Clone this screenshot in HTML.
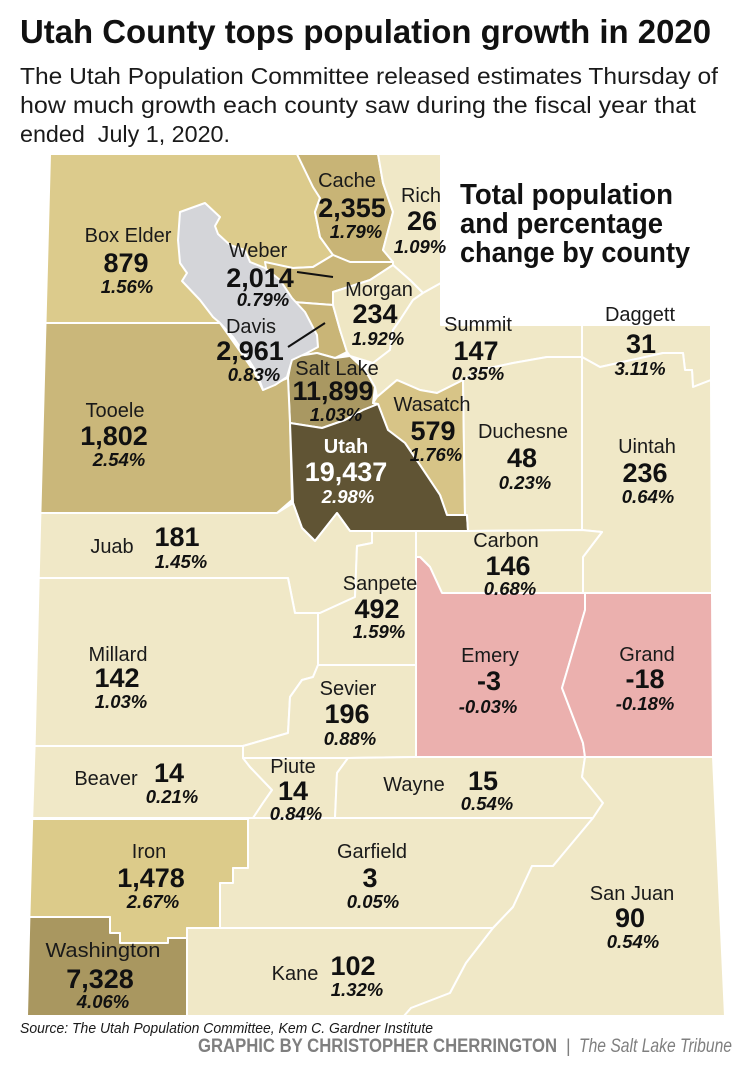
<!DOCTYPE html>
<html><head><meta charset="utf-8"><style>
html,body{margin:0;padding:0;background:#fff;}
svg{display:block;}
text{font-family:"Liberation Sans",sans-serif;}
.n{font-size:20px;fill:#1a1a1a;text-anchor:middle}
.v{font-size:27px;font-weight:bold;fill:#111;text-anchor:middle}
.p{font-size:18.5px;font-weight:bold;font-style:italic;fill:#111;text-anchor:middle}
.wt{fill:#fff}
</style></head><body>
<svg width="750" height="1075" viewBox="0 0 750 1075">
<rect width="750" height="1075" fill="#fff"/>
<!-- Header -->
<text x="20" y="43" font-size="33" font-weight="bold" fill="#111" textLength="691" lengthAdjust="spacingAndGlyphs">Utah County tops population growth in 2020</text>
<text x="20" y="84" font-size="23" fill="#1a1a1a" textLength="698" lengthAdjust="spacingAndGlyphs">The Utah Population Committee released estimates Thursday of</text>
<text x="20" y="113" font-size="23" fill="#1a1a1a" textLength="676" lengthAdjust="spacingAndGlyphs">how much growth each county saw during the fiscal year that</text>
<text x="20" y="142" font-size="23" fill="#1a1a1a" textLength="210" lengthAdjust="spacingAndGlyphs">ended&#160; July 1, 2020.</text>

<!-- Counties -->
<g stroke="#fff" stroke-width="2" stroke-linejoin="round">
<polygon fill="#dccb8c" points="50,154 297,154 313,187 320,198 315,212 320,237 333,255 313,267 293,268 270,270 220,323 45.5,323"/>
<polygon fill="#c8b476" points="297,154 378,154 383,183 393,212 383,250 393,262 350,262 333,255 320,237 315,212 320,198 313,187"/>
<polygon fill="#f0e8c7" points="378,154 441,154 441,283 423,293 410,280 393,265 393,262 383,250 393,212 383,183"/>
<polygon fill="#c9b577" points="265,262 293,268 313,267 333,255 350,262 393,262 393,265 370,280 333,292 333,305 293,302 270,290"/>
<polygon fill="#c9b577" points="293,302 333,305 340,330 347,352 335,358 317,353 292,357 285,330"/>
<polygon fill="#efe7c4" points="333,292 370,280 393,265 410,280 423,293 413,300 400,320 393,330 390,350 373,363 350,356 347,352 340,330 333,305"/>
<polygon fill="#a99862" points="292,357 317,353 335,358 350,356 365,370 375,387 373,403 378,404 363,410 345,420 322,428 290,423 288,378"/>
<polygon fill="#f0e8c7" points="423,293 441,283 441,325 582,325 582,357 547,357 513,363 480,370 463,380 437,393 420,390 397,380 377,397 375,387 365,370 373,363 390,350 393,330 400,320 413,300"/>
<polygon fill="#d7c487" points="377,397 397,380 420,390 437,393 463,380 465,515 447,515 440,495 420,465 405,443 388,430 378,404 373,403"/>
<polygon fill="#cab77a" points="45.5,323 220,323 237,347 253,370 263,390 283,380 288,378 290,423 292,500 277,513 40.4,513"/>
<polygon fill="#605434" points="290,423 322,428 345,420 363,410 378,404 388,430 405,443 420,465 440,495 447,515 467,515 468,531 350,531 337,513 315,541 302,528 293,503"/>
<polygon fill="#f0e8c7" points="463,380 480,370 513,363 547,357 582,357 582,530 468,531 467,515 465,515"/>
<polygon fill="#f0e8c7" points="582,325 711,325 711,380 693,387 692,370 685,370 683,353 663,353 600,367 582,357"/>
<polygon fill="#f0e8c7" points="582,357 600,367 663,353 683,353 685,370 692,370 693,387 711,380 712,593 583,593 583,557 602,532 582,530"/>
<polygon fill="#f0e8c7" points="416,531 468,531 582,530 602,532 583,557 583,593 442,593 430,567 420,557 416,557"/>
<polygon fill="#ebb0ae" points="416,557 420,557 430,567 442,593 585,593 585,610 562,688 583,743 585,757 416,757"/>
<polygon fill="#ebb0ae" points="585,593 712,593 713,757 585,757 583,743 562,688 585,610"/>
<polygon fill="#f0e8c7" points="40.4,513 277,513 293,503 302,528 315,541 337,513 350,531 372,531 372,543 357,546 355,597 320,613 295,613 288,578 38.7,578"/>
<polygon fill="#f0e8c7" points="372,531 416,531 416,665 318,665 318,613 320,613 355,597 357,546 372,543"/>
<polygon fill="#f0e8c7" points="38.7,578 288,578 295,613 318,613 318,665 313,677 302,680 290,697 288,733 243,746 34.6,746"/>
<polygon fill="#f0e8c7" points="318,665 416,665 416,757 348,758 243,758 243,746 288,733 290,697 302,680 313,677"/>
<polygon fill="#f0e8c7" points="34.6,746 243,746 243,758 250,767 272,790 263,803 253,818 32.2,818"/>
<polygon fill="#f0e8c7" points="243,758 348,758 337,773 335,818 253,818 263,803 272,790 250,767"/>
<polygon fill="#f0e8c7" points="348,758 416,757 585,757 582,777 603,803 593,818 335,818 337,773"/>
<polygon fill="#dccb8a" points="32.2,819 248,819 248,868 233,868 233,883 220,883 220,928 187,928 187,938 168,938 168,943 120,943 120,933 110,933 110,917 29.4,917"/>
<polygon fill="#f0e8c7" points="248,818 593,818 553,866 532,866 513,907 493,928 220,928 220,883 233,883 233,868 248,868"/>
<polygon fill="#a99760" points="29.4,917 110,917 110,933 120,933 120,943 168,943 168,938 187,938 187,1016 27,1016"/>
<polygon fill="#f0e8c7" points="187,928 493,928 466,963 450,993 411,1008 404,1016 187,1016"/>
<polygon fill="#f0e8c7" points="585,757 713,757 725,1016 404,1016 411,1008 450,993 466,963 493,928 513,907 532,866 553,866 593,818 603,803 582,777"/>
<polygon fill="#d4d5d9" points="180,212 205,203 220,217 215,226 218,234 230,245 245,250 250,262 265,268 280,280 292,298 305,312 317,335 318,347 307,353 292,360 287,377 275,385 263,390 257,373 247,357 233,337 220,323 213,317 200,300 182,281 187,273 180,263 178,240"/>
</g>

<!-- leader lines -->
<line x1="297" y1="272" x2="333" y2="277" stroke="#111" stroke-width="2"/>
<line x1="288" y1="347" x2="325" y2="323" stroke="#111" stroke-width="2"/>

<!-- Side heading -->
<text x="460" y="204" font-size="29" font-weight="bold" fill="#111" textLength="213" lengthAdjust="spacingAndGlyphs">Total population</text>
<text x="460" y="233" font-size="29" font-weight="bold" fill="#111" textLength="203" lengthAdjust="spacingAndGlyphs">and percentage</text>
<text x="460" y="262" font-size="29" font-weight="bold" fill="#111" textLength="230" lengthAdjust="spacingAndGlyphs">change by county</text>

<!-- Labels -->
<text class="n" x="128" y="242">Box Elder</text><text class="v" x="126" y="272">879</text><text class="p" x="127" y="293">1.56%</text>
<text class="n" x="347" y="187">Cache</text><text class="v" x="352" y="217">2,355</text><text class="p" x="356" y="238">1.79%</text>
<text class="n" x="421" y="202">Rich</text><text class="v" x="422" y="230">26</text><text class="p" x="420" y="253">1.09%</text>
<text class="n" x="258" y="257">Weber</text><text class="v" x="260" y="287">2,014</text><text class="p" x="263" y="306">0.79%</text>
<text class="n" x="251" y="333">Davis</text><text class="v" x="250" y="360">2,961</text><text class="p" x="254" y="381">0.83%</text>
<text class="n" x="379" y="296">Morgan</text><text class="v" x="375" y="323">234</text><text class="p" x="378" y="345">1.92%</text>
<text class="n" x="337" y="375">Salt Lake</text><text class="v" x="333" y="400">11,899</text><text class="p" x="336" y="421">1.03%</text>
<text class="n" x="115" y="417">Tooele</text><text class="v" x="114" y="445">1,802</text><text class="p" x="119" y="466">2.54%</text>
<text class="n wt" x="346" y="453" font-weight="bold">Utah</text><text class="v wt" x="346" y="481">19,437</text><text class="p wt" x="348" y="503">2.98%</text>
<text class="n" x="432" y="411">Wasatch</text><text class="v" x="433" y="440">579</text><text class="p" x="436" y="461">1.76%</text>
<text class="n" x="478" y="331">Summit</text><text class="v" x="476" y="360">147</text><text class="p" x="478" y="380">0.35%</text>
<text class="n" x="640" y="321">Daggett</text><text class="v" x="641" y="353">31</text><text class="p" x="640" y="375">3.11%</text>
<text class="n" x="523" y="438">Duchesne</text><text class="v" x="522" y="467">48</text><text class="p" x="525" y="489">0.23%</text>
<text class="n" x="647" y="453">Uintah</text><text class="v" x="645" y="482">236</text><text class="p" x="648" y="503">0.64%</text>
<text class="n" x="506" y="547">Carbon</text><text class="v" x="508" y="575">146</text><text class="p" x="510" y="595">0.68%</text>
<text class="n" x="380" y="590">Sanpete</text><text class="v" x="377" y="618">492</text><text class="p" x="379" y="638">1.59%</text>
<text class="n" x="112" y="553">Juab</text><text class="v" x="177" y="546">181</text><text class="p" x="181" y="568">1.45%</text>
<text class="n" x="118" y="661">Millard</text><text class="v" x="117" y="687">142</text><text class="p" x="121" y="708">1.03%</text>
<text class="n" x="348" y="695">Sevier</text><text class="v" x="347" y="723">196</text><text class="p" x="350" y="745">0.88%</text>
<text class="n" x="106" y="785">Beaver</text><text class="v" x="169" y="782">14</text><text class="p" x="172" y="803">0.21%</text>
<text class="n" x="293" y="773">Piute</text><text class="v" x="293" y="800">14</text><text class="p" x="296" y="820">0.84%</text>
<text class="n" x="490" y="662">Emery</text><text class="v" x="489" y="690">-3</text><text class="p" x="488" y="713">-0.03%</text>
<text class="n" x="647" y="661">Grand</text><text class="v" x="645" y="688">-18</text><text class="p" x="645" y="710">-0.18%</text>
<text class="n" x="414" y="791">Wayne</text><text class="v" x="483" y="790">15</text><text class="p" x="487" y="810">0.54%</text>
<text class="n" x="372" y="858">Garfield</text><text class="v" x="370" y="887">3</text><text class="p" x="373" y="908">0.05%</text>
<text class="n" x="632" y="900">San Juan</text><text class="v" x="630" y="927">90</text><text class="p" x="633" y="948">0.54%</text>
<text class="n" x="149" y="858">Iron</text><text class="v" x="151" y="887">1,478</text><text class="p" x="153" y="908">2.67%</text>
<text class="n" x="103" y="957" textLength="115" lengthAdjust="spacingAndGlyphs">Washington</text><text class="v" x="100" y="988">7,328</text><text class="p" x="103" y="1008">4.06%</text>
<text class="n" x="295" y="980">Kane</text><text class="v" x="353" y="975">102</text><text class="p" x="357" y="996">1.32%</text>

<!-- Footer -->
<text x="20" y="1033" font-size="15" font-style="italic" fill="#1a1a1a" textLength="413" lengthAdjust="spacingAndGlyphs">Source: The Utah Population Committee, Kem C. Gardner Institute</text>
<text x="198" y="1052" font-size="19" font-weight="bold" fill="#7f7f7f" textLength="359" lengthAdjust="spacingAndGlyphs">GRAPHIC BY CHRISTOPHER CHERRINGTON</text>
<text x="566" y="1052" font-size="18" fill="#7f7f7f">|</text>
<text x="579" y="1052" font-size="19" font-style="italic" fill="#7f7f7f" textLength="153" lengthAdjust="spacingAndGlyphs">The Salt Lake Tribune</text>
</svg>
</body></html>
